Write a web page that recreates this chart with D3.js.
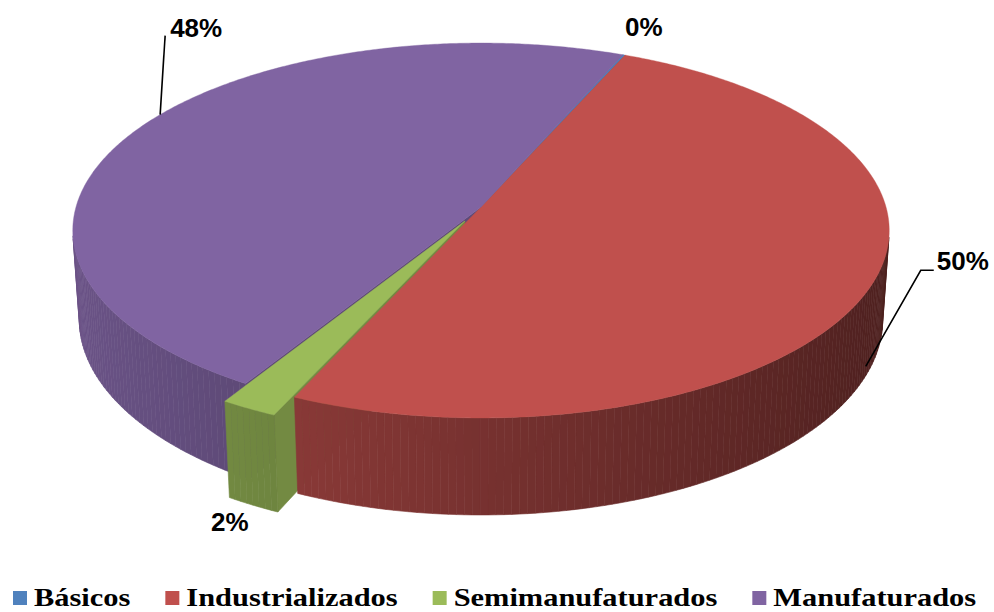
<!DOCTYPE html>
<html>
<head>
  <meta charset="UTF-8">
	<style>
	body { margin: 0; background: #fff; }
	.pct { font-family: 'Liberation Sans', Arial, sans-serif; font-weight: bold; font-size: 26px; fill: #000; }
	#legend text { font-family: 'Liberation Serif', serif; font-weight: bold; font-size: 26px; fill: #000; }
	.leader { fill: none; stroke: #000; stroke-width: 1.6px; }
	</style>
</head>
<body>
<script src="https://d3js.org/d3.v7.min.js"></script>
<script>
  // data
  const categories = ["Básicos", "Industrializados", "Semimanufaturados", "Manufaturados"];
  const shares = [0.1, 50.2, 2.0, 47.7];
  const colours = ["#4F81BD", "#C0504D", "#9BBB59", "#8064A2"];
  const explode = [0, 0, 0.085, 0];

  let width = 994,
    height = 612;

  // fake 3d camera (fitted by eye): centre, radius in px, tilt, eye distance, thickness
  let cx = 481, cy = 207, S = 405,
    tilt = 27.1 * Math.PI / 180, D = 7.1, H = 0.249;
  let sn = Math.sin(tilt), cs = Math.cos(tilt);
  let cam = { x: 0, h: D * sn, z: D * cs };
  let deg = Math.PI / 180;

  // x right, z toward viewer, h up
  function proj(x, z, h) {
    let sy = z * sn - h * cs,
      dz = z * cs + h * sn,
      k = D / (D - dz);
    return [cx + S * x * k, cy + S * sy * k];
  }
  function depth(x, z, h) { return z * cs + h * sn; }
  function rim(a, off, h) { return proj(off.x + Math.sin(a), off.z - Math.cos(a), h); }

  let svg = d3.select("body").append("svg")
    .attr("width", width)
    .attr("height", height)
    .attr("viewBox", "0 0 " + width + " " + height);

  let pie = d3.pie().sort(null)
    .startAngle(23 * deg)
    .endAngle(23 * deg + 2 * Math.PI);
  let arcs = pie(shares);

  let line = d3.line();
  let shade = (c, f) => {
    let r = d3.rgb(c);
    return d3.rgb(r.r * f, r.g * f, r.b * f).formatHex();
  };

  arcs.forEach((d, i) => {
    let mid = (d.startAngle + d.endAngle) / 2;
    d.off = { x: explode[i] * Math.sin(mid), z: -explode[i] * Math.cos(mid) };
    d.mid = mid;
    d.i = i;
  });

  let visible = (n, p) => n.x * (cam.x - p.x) + n.h * (cam.h - p.h) + n.z * (cam.z - p.z) > 0;

  // curved outer wall, cut into 1 degree strips, back faces dropped
  function outerWalls(d) {
    let out = [], off = d.off, c = colours[d.i];
    let n = Math.max(1, Math.ceil((d.endAngle - d.startAngle) / deg));
    let step = (d.endAngle - d.startAngle) / n;
    for (let j = 0; j < n; j++) {
      let t0 = d.startAngle + j * step, t1 = t0 + step, tm = (t0 + t1) / 2;
      let nrm = { x: Math.sin(tm), h: 0, z: -Math.cos(tm) };
      let p = { x: off.x + nrm.x, h: -H / 2, z: off.z + nrm.z };
      if (!visible(nrm, p)) continue;
      out.push({
        pts: [rim(t0, off, 0), rim(t1, off, 0), rim(t1, off, -H), rim(t0, off, -H)],
        fill: shade(c, 0.62 - 0.22 * nrm.x),
        z: depth(p.x, p.z, p.h)
      });
    }
    return out;
  }

  // flat walls at both cut edges
  function radialWalls(d) {
    let out = [], off = d.off, c = colours[d.i];
    [[d.startAngle, -1], [d.endAngle, 1]].forEach(([a, sgn]) => {
      let nrm = { x: sgn * Math.cos(a), h: 0, z: sgn * Math.sin(a) };
      let p = { x: off.x + 0.5 * Math.sin(a), h: -H / 2, z: off.z - 0.5 * Math.cos(a) };
      if (!visible(nrm, p)) return;
      out.push({
        pts: [proj(off.x, off.z, 0), rim(a, off, 0), rim(a, off, -H), proj(off.x, off.z, -H)],
        fill: shade(c, 0.74),
        z: depth(p.x, p.z, p.h)
      });
    });
    return out;
  }

  function topFace(d) {
    let pts = [proj(d.off.x, d.off.z, 0)];
    let n = Math.max(2, Math.ceil((d.endAngle - d.startAngle) / (0.5 * deg)));
    for (let j = 0; j <= n; j++) {
      pts.push(rim(d.startAngle + (d.endAngle - d.startAngle) * j / n, d.off, 0));
    }
    return pts;
  }

  let pieG = svg.append("g").attr("id", "pie");

  function drawQuads(q) {
    q.sort((a, b) => a.z - b.z);
    pieG.append("g")
      .selectAll("path")
      .data(q)
      .enter()
      .append("path")
      .attr("d", e => line(e.pts) + "Z")
      .attr("fill", e => e.fill)
      .attr("stroke", e => e.fill)
      .attr("stroke-width", 0.6);
  }
  function drawTops(list) {
    pieG.append("g")
      .selectAll("path")
      .data(list)
      .enter()
      .append("path")
      .attr("d", d => line(topFace(d)) + "Z")
      .attr("fill", d => colours[d.i])
      .attr("stroke", d => colours[d.i])
      .attr("stroke-width", 0.4);
  }

  let still = arcs.filter(d => explode[d.i] === 0),
    pulled = arcs.filter(d => explode[d.i] !== 0);
  let collect = (list, f) => list.reduce((acc, d) => acc.concat(f(d)), []);

  // cut faces are mostly buried in the neighbours, so they go first
  drawQuads(collect(still, radialWalls));
  drawQuads(collect(pulled, radialWalls));
  drawQuads(collect(still, outerWalls));
  drawTops(still);
  drawQuads(collect(pulled, outerWalls));
  drawTops(pulled);

  // percentage labels: anchor point on the slice, then offset to where the label sits
  let labelPlace = [
    { at: 0.5, h: 0, dx: 1, dy: -19, leader: false },
    { at: 0.5, h: -0.22, dx: 71, dy: -96, leader: true, elbow: 16 },
    { at: 0.5, h: -H, dx: -42, dy: 26, leader: false },
    { at: 0.53, h: 0, dx: 10, dy: -78, leader: true }
  ];

  let labG = svg.append("g").attr("id", "labels");
  arcs.forEach(d => {
    let lp = labelPlace[d.i];
    let a = d.startAngle + (d.endAngle - d.startAngle) * lp.at;
    let p = proj(d.off.x + Math.sin(a), d.off.z - Math.cos(a), lp.h);
    let tx = p[0] + lp.dx, ty = p[1] + lp.dy;
    if (lp.leader) {
      let pts = lp.elbow ? [p, [tx - lp.elbow, ty], [tx - 3, ty]] : [p, [tx - 5, ty - 1]];
      labG.append("path").attr("class", "leader").attr("d", line(pts));
    }
    labG.append("text")
      .attr("class", "pct")
      .attr("x", tx)
      .attr("y", ty)
      .text(Math.round(shares[d.i]) + "%");
  });

  // legend
  let legend = svg.append("g").attr("id", "legend");
  let lx = 13;
  categories.forEach((c, i) => {
    legend.append("rect")
      .attr("x", lx).attr("y", 591)
      .attr("width", 14).attr("height", 14)
      .attr("fill", colours[i]);
    let t = legend.append("text")
      .attr("x", lx + 21)
      .attr("y", 605.5)
      .text(c);
    let w = t.node().getComputedTextLength() * 1.17;
    t.attr("textLength", w).attr("lengthAdjust", "spacingAndGlyphs");
    lx += 21 + w + 35;
  });
</script>
</body>
</html>
